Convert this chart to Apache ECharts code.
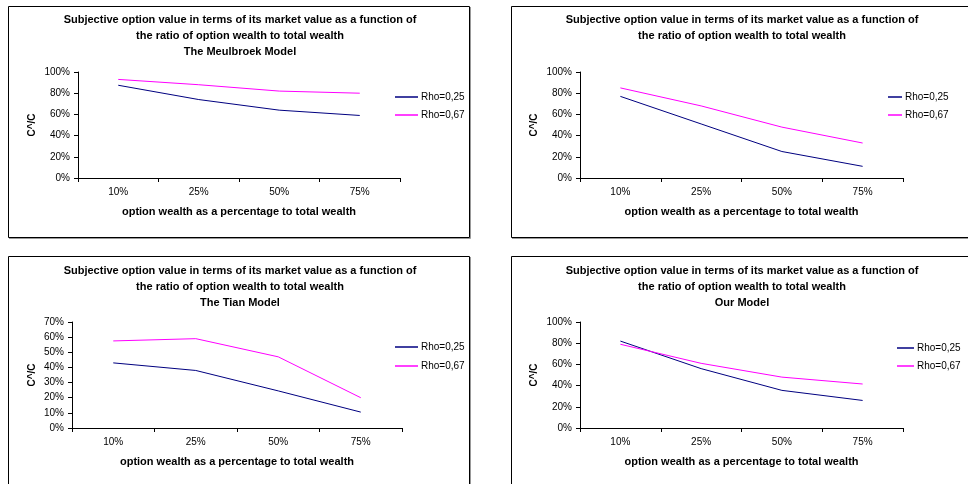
<!DOCTYPE html>
<html>
<head>
<meta charset="utf-8">
<script src="https://cdn.jsdelivr.net/npm/echarts@6/dist/echarts.min.js"></script>
<style>
  html, body { margin: 0; padding: 0; background: #fff; }
  #chart { width: 968px; height: 484px; }
</style>
</head>
<body>
<div id="chart"></div>
<script>
// Option wealth share of total wealth (x categories)
const categories = ['10%', '25%', '50%', '75%'];
const seriesNames = ['Rho=0,25', 'Rho=0,67'];

// C^/C in percent, per model
const meulbroekRho025 = [87.5, 74, 64, 59];
const meulbroekRho067 = [93, 88, 82, 80];

const basicRho025 = [77, 51, 25, 11];
const basicRho067 = [85, 68, 48, 33];

const tianRho025 = [43, 38, 24.5, 10.5];
const tianRho067 = [57.5, 59, 47, 20];

const ourRho025 = [82, 56, 35.5, 26];
const ourRho067 = [79, 61, 48, 41.5];

const titleMain = 'Subjective option value in terms of its market value as a function of\nthe ratio of option wealth to total wealth';
const xName = 'option wealth as a percentage to total wealth';
const yName = 'C^/C';

const FONT = '"Liberation Sans", Arial, sans-serif';
const BLUE = '#000080';
const PINK = '#ff00ff';

const panels = [
  { title: titleMain + '\nThe Meulbroek Model', data: [meulbroekRho025, meulbroekRho067], max: 100, interval: 20,
    grid: { left: 78, top: 72, width: 322, height: 106 }, titleX: 240, titleTop: 12, nameGapY: 41,
    legend: { left: 395, top: 91, itemWidth: 23 } },
  { title: titleMain, data: [basicRho025, basicRho067], max: 100, interval: 20,
    grid: { left: 580, top: 72, width: 323, height: 106 }, titleX: 742, titleTop: 12, nameGapY: 41,
    legend: { left: 888, top: 91, itemWidth: 14 } },
  { title: titleMain + '\nThe Tian Model', data: [tianRho025, tianRho067], max: 70, interval: 10,
    grid: { left: 72, top: 322, width: 330, height: 106 }, titleX: 240, titleTop: 263, nameGapY: 35,
    legend: { left: 395, top: 341, itemWidth: 23, itemGap: 7 } },
  { title: titleMain + '\nOur Model', data: [ourRho025, ourRho067], max: 100, interval: 20,
    grid: { left: 580, top: 322, width: 323, height: 106 }, titleX: 742, titleTop: 263, nameGapY: 41,
    legend: { left: 897, top: 342, itemWidth: 17, itemGap: 6 } }
];

const axisLine = { show: true, lineStyle: { color: '#000', width: 1 } };

const option = {
  animation: false,
  backgroundColor: '#fff',
  title: panels.map(p => ({
    text: p.title,
    left: p.titleX,
    top: p.titleTop,
    textAlign: 'center',
    padding: 0,
    textStyle: { fontFamily: FONT, fontSize: 11, fontWeight: 'bold', color: '#000', lineHeight: 16 }
  })),
  legend: panels.map(p => ({
    data: seriesNames,
    orient: 'vertical',
    left: p.legend.left,
    top: p.legend.top,
    padding: 0,
    itemGap: p.legend.itemGap || 6,
    itemWidth: p.legend.itemWidth,
    itemHeight: 1.5,
    icon: 'rect',
    selectedMode: false,
    textStyle: { fontFamily: FONT, fontSize: 10, color: '#000', lineHeight: 12, padding: [0, 0, 0, -2] }
  })),
  grid: panels.map(p => Object.assign({}, p.grid)),
  xAxis: panels.map((p, i) => ({
    type: 'category',
    gridIndex: i,
    data: categories,
    boundaryGap: true,
    name: xName,
    nameLocation: 'middle',
    nameGap: 28,
    nameTextStyle: { fontFamily: FONT, fontSize: 11, fontWeight: 'bold', color: '#000' },
    axisLine: axisLine,
    axisTick: { show: true, length: 4, lineStyle: { color: '#000' } },
    axisLabel: { fontFamily: FONT, fontSize: 10, color: '#000', margin: 9 },
    splitLine: { show: false }
  })),
  yAxis: panels.map((p, i) => ({
    type: 'value',
    gridIndex: i,
    min: 0,
    max: p.max,
    interval: p.interval,
    name: yName,
    nameLocation: 'middle',
    nameGap: p.nameGapY,
    nameTextStyle: { fontFamily: FONT, fontSize: 10, fontWeight: 'bold', color: '#000' },
    axisLine: axisLine,
    axisTick: { show: true, length: 4, lineStyle: { color: '#000' } },
    axisLabel: { fontFamily: FONT, fontSize: 10, color: '#000', margin: 8, formatter: '{value}%' },
    splitLine: { show: false }
  })),
  series: panels.flatMap((p, i) => [
    { name: seriesNames[0], type: 'line', xAxisIndex: i, yAxisIndex: i, data: p.data[0],
      showSymbol: false, symbol: 'none', color: BLUE, lineStyle: { color: BLUE, width: 1 } },
    { name: seriesNames[1], type: 'line', xAxisIndex: i, yAxisIndex: i, data: p.data[1],
      showSymbol: false, symbol: 'none', color: PINK, lineStyle: { color: PINK, width: 1 } }
  ]),
  graphic: [
    // chart frames with a thin gray drop edge on the right and bottom
    ...[
      { x: 8, y: 6, w: 461, h: 231 },
      { x: 511, y: 6, w: 480, h: 231 },
      { x: 8, y: 256, w: 461, h: 240 },
      { x: 511, y: 256, w: 480, h: 240 }
    ].flatMap(b => [
      { type: 'polyline', silent: true, z: 99,
        shape: { points: [[b.x + b.w + 1.5, b.y + 1], [b.x + b.w + 1.5, b.y + b.h + 1.5], [b.x + 1, b.y + b.h + 1.5]] },
        style: { stroke: '#999', lineWidth: 1, fill: null } },
      { type: 'rect', silent: true, z: 100,
        shape: { x: b.x + 0.5, y: b.y + 0.5, width: b.w, height: b.h },
        style: { stroke: '#000', lineWidth: 1, fill: null } }
    ])
  ]
};

const chart = echarts.init(document.getElementById('chart'), null, { renderer: 'canvas', width: 968, height: 484 });
chart.setOption(option);
</script>
</body>
</html>
